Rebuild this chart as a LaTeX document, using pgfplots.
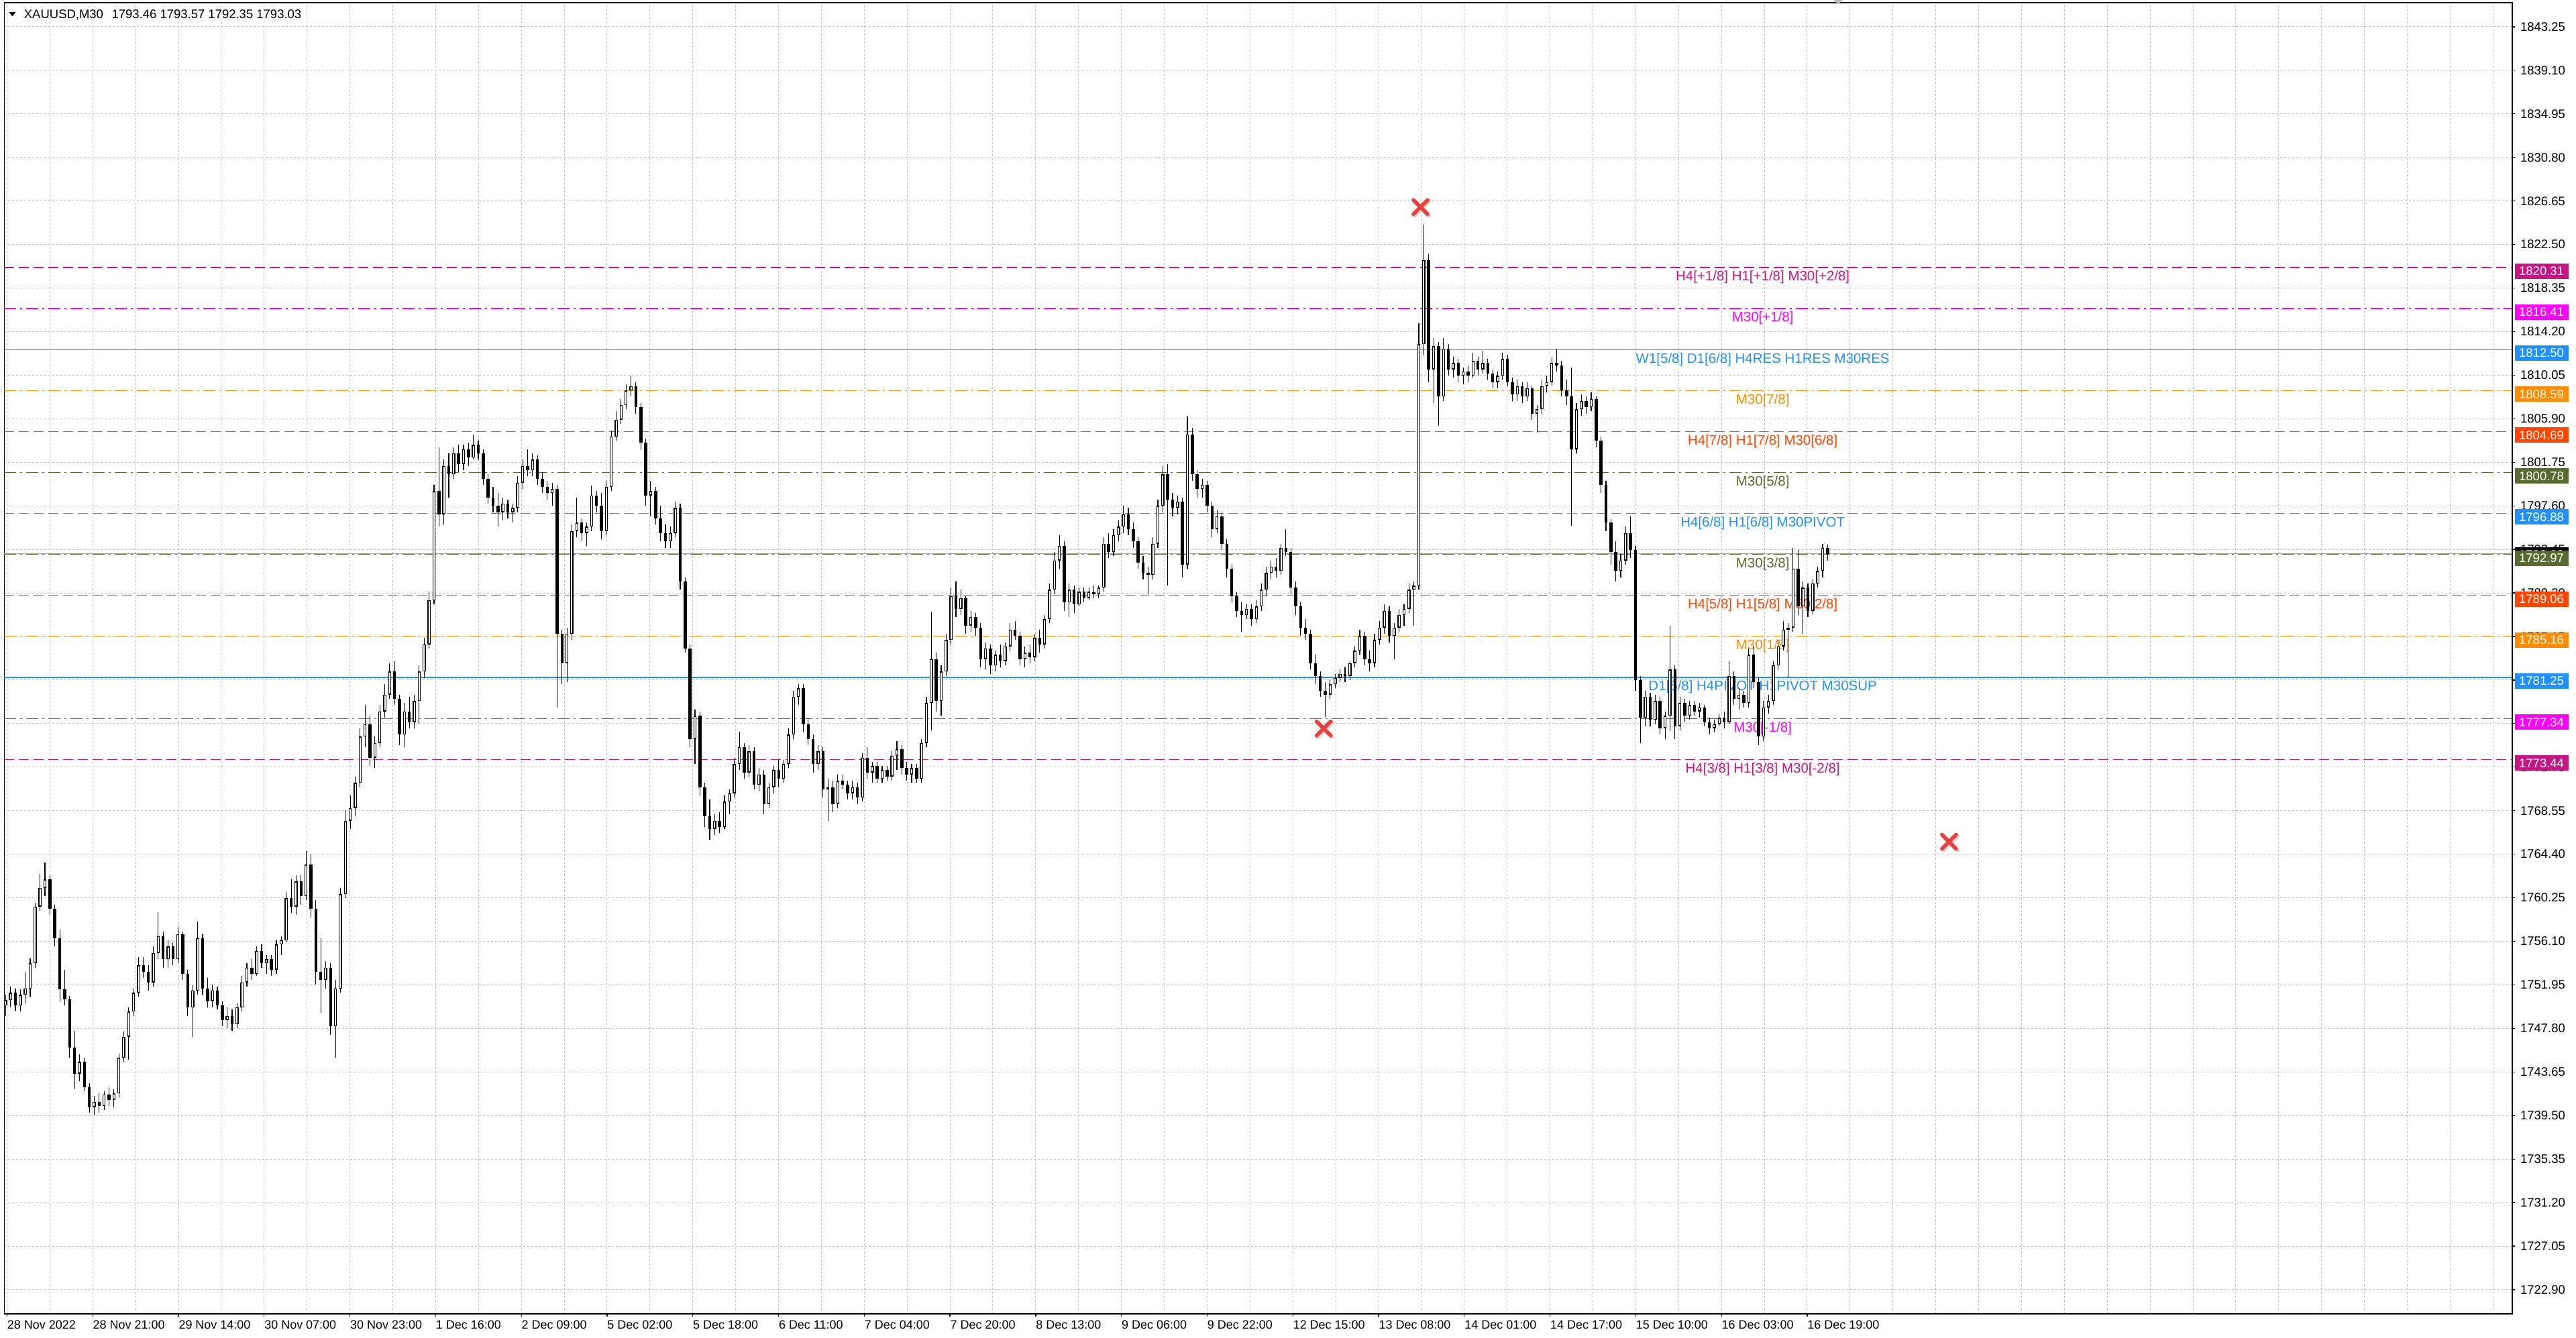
\documentclass[border=0pt]{standalone}
\usepackage{fontspec}
\setmainfont{Liberation Sans}
\usepackage{pgfplots}
\pgfplotsset{compat=1.18}
\usepackage{pgfplotstable}

\definecolor{mvr}{HTML}{C71585}
\definecolor{mag}{HTML}{FF00FF}
\definecolor{dblue}{HTML}{1E90FF}
\definecolor{dorange}{HTML}{FF8C00}
\definecolor{ored}{HTML}{FF4500}
\definecolor{dolive}{HTML}{556B2F}
\definecolor{gridc}{HTML}{C0C0C0}
\definecolor{xred}{HTML}{E8413C}

\tikzset{
  lvl/.style={font=\fontsize{8.2pt}{10pt}\selectfont, anchor=base, yshift=-8pt},
  pbox/.style={anchor=west, xshift=1.2pt, yshift=-2.2pt, minimum width=32pt, minimum height=9.2pt, inner sep=0pt, text=white, font=\fontsize{7.4pt}{8pt}\selectfont},
  dsh/.style={line width=0.5pt, dash pattern=on 6pt off 2.8pt},
  dot/.style={line width=0.5pt, dash pattern=on 7.2pt off 2.4pt on 1.2pt off 2.4pt},
  sol/.style={line width=0.45pt},
}

% XAUUSD M30, one candle per ~2 bars: open high low close
\pgfplotstableread{
o h l c
1750.0 1751.0 1749.0 1750.5
1750.5 1751.8 1749.8 1751.2
1751.2 1751.6 1749.5 1750.0
1750.0 1751.5 1749.4 1751.0
1751.0 1753.1 1750.2 1751.6
1751.6 1754.5 1750.8 1754.0
1754.0 1759.8 1753.6 1759.4
1759.4 1762.5 1759.0 1761.2
1761.2 1763.6 1760.4 1762.0
1762.0 1762.4 1758.6 1759.2
1759.2 1759.6 1755.6 1756.4
1756.4 1757.2 1750.4 1751.5
1751.5 1753.4 1750.0 1750.6
1750.6 1750.9 1745.0 1746.0
1746.0 1747.6 1742.0 1743.5
1743.5 1745.3 1742.8 1744.6
1744.6 1745.0 1741.8 1742.2
1742.2 1742.6 1739.8 1740.3
1740.3 1741.4 1739.5 1740.8
1740.8 1741.6 1739.8 1740.4
1740.4 1741.8 1740.0 1741.5
1741.5 1742.2 1740.4 1741.0
1741.0 1742.0 1740.3 1741.6
1741.6 1745.4 1741.2 1745.0
1745.0 1747.5 1744.6 1747.0
1747.0 1749.8 1744.8 1749.4
1749.4 1751.6 1749.0 1751.2
1751.2 1754.6 1750.8 1753.8
1753.8 1754.6 1752.6 1753.2
1753.2 1753.8 1751.4 1752.2
1752.2 1755.6 1751.8 1755.0
1755.0 1758.9 1754.4 1756.6
1756.6 1757.0 1753.6 1754.4
1754.4 1756.2 1753.6 1755.6
1755.6 1756.0 1753.8 1754.4
1754.4 1757.4 1754.0 1756.8
1756.8 1757.0 1752.4 1753.0
1753.0 1753.4 1749.0 1749.8
1749.8 1751.9 1747.0 1751.4
1751.4 1758.0 1751.0 1756.4
1756.4 1756.8 1751.0 1751.6
1751.6 1752.6 1749.8 1750.4
1750.4 1752.0 1749.8 1751.4
1751.4 1751.8 1749.6 1750.0
1750.0 1750.4 1748.0 1748.6
1748.6 1749.8 1747.8 1749.0
1749.0 1749.6 1747.6 1748.2
1748.2 1750.2 1747.8 1749.8
1749.8 1752.8 1749.4 1752.2
1752.2 1754.0 1751.8 1753.6
1753.6 1754.4 1752.4 1753.0
1753.0 1755.6 1752.8 1755.2
1755.2 1755.8 1753.6 1754.0
1754.0 1754.8 1753.0 1754.4
1754.4 1754.8 1752.8 1753.4
1753.4 1756.2 1753.0 1755.8
1755.8 1756.6 1754.8 1756.2
1756.2 1760.8 1756.0 1760.2
1760.2 1762.0 1758.8 1759.4
1759.4 1762.4 1758.6 1761.8
1761.8 1762.4 1759.6 1760.4
1760.4 1764.7 1760.0 1763.4
1763.4 1764.4 1758.4 1759.2
1759.2 1760.0 1752.0 1753.2
1753.2 1756.4 1749.3 1752.4
1752.4 1754.2 1751.6 1753.6
1753.6 1754.0 1747.2 1748.0
1748.0 1752.4 1745.0 1751.6
1751.6 1761.2 1751.2 1760.6
1760.6 1768.6 1760.2 1767.6
1767.6 1770.0 1766.8 1768.8
1768.8 1771.8 1768.0 1771.2
1771.2 1776.4 1770.8 1775.6
1775.6 1778.6 1774.6 1776.8
1776.8 1777.6 1772.8 1773.6
1773.6 1775.6 1772.6 1775.0
1775.0 1778.6 1774.6 1778.0
1778.0 1780.6 1777.4 1779.6
1779.6 1782.6 1779.2 1781.8
1781.8 1782.8 1778.6 1779.2
1779.2 1779.6 1774.8 1775.8
1775.8 1778.8 1774.6 1778.0
1778.0 1779.4 1776.4 1777.0
1777.0 1779.6 1776.4 1779.0
1779.0 1782.4 1776.8 1781.8
1781.8 1785.0 1781.2 1784.4
1784.4 1789.4 1784.0 1788.6
1788.6 1799.6 1788.2 1799.0
1799.0 1803.2 1795.6 1796.8
1796.8 1802.0 1795.8 1801.4
1801.4 1802.6 1798.4 1800.6
1800.6 1803.2 1800.2 1802.6
1802.6 1803.4 1800.8 1801.6
1801.6 1803.4 1801.0 1803.0
1803.0 1803.6 1801.4 1802.2
1802.2 1804.4 1802.0 1803.4
1803.4 1803.8 1802.0 1802.6
1802.6 1803.0 1799.6 1800.2
1800.2 1800.6 1797.8 1798.4
1798.4 1799.4 1797.0 1797.6
1797.6 1798.8 1795.6 1797.0
1797.0 1798.4 1796.2 1797.8
1797.8 1798.2 1796.4 1797.0
1797.0 1797.8 1796.0 1797.4
1797.4 1800.4 1797.0 1799.8
1799.8 1802.0 1799.2 1801.4
1801.4 1803.0 1800.4 1801.0
1801.0 1802.6 1800.4 1802.0
1802.0 1802.4 1799.6 1800.2
1800.2 1800.8 1798.8 1799.4
1799.4 1800.0 1798.2 1798.8
1798.8 1799.8 1797.6 1799.2
1799.2 1799.6 1778.4 1785.4
1785.4 1785.8 1780.6 1782.6
1782.6 1786.0 1780.8 1785.4
1785.4 1795.8 1784.8 1795.2
1795.2 1798.4 1794.6 1796.0
1796.0 1796.4 1794.2 1795.0
1795.0 1796.0 1793.8 1795.6
1795.6 1799.5 1795.2 1798.6
1798.6 1799.0 1797.0 1797.6
1797.6 1798.8 1794.4 1795.2
1795.2 1800.0 1794.8 1799.4
1799.4 1804.8 1799.0 1804.2
1804.2 1806.6 1803.8 1805.8
1805.8 1807.8 1805.4 1807.2
1807.2 1809.2 1806.8 1808.6
1808.6 1810.0 1808.0 1809.0
1809.0 1809.4 1806.4 1807.0
1807.0 1807.4 1803.0 1803.6
1803.6 1804.0 1797.6 1798.6
1798.6 1800.0 1796.6 1799.0
1799.0 1799.4 1795.8 1796.4
1796.4 1797.6 1794.2 1795.0
1795.0 1795.8 1793.6 1794.2
1794.2 1795.6 1793.6 1795.0
1795.0 1798.0 1794.6 1797.4
1797.4 1797.8 1789.6 1790.4
1790.4 1790.8 1783.6 1784.0
1784.0 1784.4 1774.6 1775.4
1775.4 1778.2 1773.0 1777.6
1777.6 1778.0 1770.0 1770.8
1770.8 1771.2 1767.0 1768.0
1768.0 1769.6 1765.8 1766.8
1766.8 1768.2 1766.2 1767.6
1767.6 1768.4 1766.4 1767.0
1767.0 1770.0 1766.8 1769.4
1769.4 1770.6 1768.2 1770.2
1770.2 1773.6 1769.8 1773.0
1773.0 1776.1 1772.4 1774.6
1774.6 1775.0 1771.6 1772.2
1772.2 1774.8 1771.8 1774.2
1774.2 1774.6 1770.6 1771.0
1771.0 1772.6 1770.4 1772.0
1772.0 1772.4 1768.2 1769.2
1769.2 1771.2 1768.8 1770.8
1770.8 1772.8 1770.2 1772.4
1772.4 1773.4 1770.8 1771.6
1771.6 1773.4 1771.2 1773.0
1773.0 1776.4 1772.6 1775.8
1775.8 1780.0 1775.4 1779.4
1779.4 1780.6 1778.6 1780.2
1780.2 1780.6 1776.0 1776.8
1776.8 1777.4 1774.8 1775.4
1775.4 1775.8 1772.2 1773.0
1773.0 1774.8 1772.4 1774.2
1774.2 1774.6 1769.8 1770.6
1770.6 1771.6 1767.6 1770.8
1770.8 1771.4 1768.4 1769.2
1769.2 1772.0 1768.8 1771.4
1771.4 1772.0 1770.6 1771.0
1771.0 1771.4 1769.6 1770.2
1770.2 1771.4 1769.6 1770.8
1770.8 1771.2 1769.2 1769.8
1769.8 1774.0 1769.4 1773.6
1773.6 1774.6 1771.6 1772.2
1772.2 1773.2 1771.2 1772.8
1772.8 1773.2 1771.2 1771.6
1771.6 1772.8 1771.2 1772.4
1772.4 1772.8 1771.4 1771.8
1771.8 1774.2 1771.4 1773.8
1773.8 1775.2 1772.4 1774.4
1774.4 1774.8 1772.0 1772.6
1772.6 1773.2 1771.4 1772.0
1772.0 1773.0 1771.2 1772.6
1772.6 1773.0 1771.2 1771.6
1771.6 1775.4 1771.2 1775.0
1775.0 1779.4 1774.6 1778.8
1778.8 1787.5 1776.2 1783.0
1783.0 1783.6 1778.0 1779.0
1779.0 1782.4 1777.6 1781.8
1781.8 1785.4 1781.4 1784.8
1784.8 1789.8 1784.4 1789.0
1789.0 1790.4 1787.0 1787.8
1787.8 1789.6 1787.2 1788.8
1788.8 1789.0 1785.4 1786.2
1786.2 1787.6 1785.6 1787.0
1787.0 1787.4 1785.2 1786.0
1786.0 1786.4 1782.2 1783.0
1783.0 1784.6 1782.0 1784.0
1784.0 1784.4 1781.6 1782.4
1782.4 1783.8 1781.8 1783.4
1783.4 1784.4 1782.2 1782.8
1782.8 1784.6 1782.4 1784.2
1784.2 1786.4 1783.8 1785.8
1785.8 1786.6 1784.8 1785.2
1785.2 1785.6 1782.4 1783.0
1783.0 1784.2 1782.2 1783.6
1783.6 1784.4 1782.6 1783.2
1783.2 1785.4 1782.8 1785.0
1785.0 1785.8 1783.6 1784.4
1784.4 1787.2 1784.0 1786.8
1786.8 1790.2 1786.4 1789.6
1789.6 1793.2 1789.2 1792.4
1792.4 1794.8 1791.6 1793.8
1793.8 1794.2 1787.6 1788.4
1788.4 1790.2 1787.0 1789.6
1789.6 1790.0 1787.4 1788.2
1788.2 1789.8 1788.0 1789.4
1789.4 1789.8 1788.4 1788.8
1788.8 1789.8 1788.6 1789.4
1789.4 1790.0 1788.8 1789.2
1789.2 1790.0 1788.8 1789.8
1789.8 1794.6 1789.4 1794.0
1794.0 1795.0 1792.6 1793.2
1793.2 1795.4 1792.8 1794.8
1794.8 1796.2 1794.2 1795.6
1795.6 1797.6 1795.0 1796.8
1796.8 1797.4 1794.8 1795.4
1795.4 1796.0 1793.6 1794.2
1794.2 1794.6 1791.6 1792.2
1792.2 1792.8 1790.6 1791.2
1791.2 1791.8 1789.2 1791.0
1791.0 1794.6 1790.6 1794.0
1794.0 1798.2 1793.6 1797.6
1797.6 1801.4 1797.0 1800.6
1800.6 1801.6 1790.0 1798.2
1798.2 1798.8 1796.6 1797.4
1797.4 1798.6 1796.8 1798.0
1798.0 1798.4 1790.8 1792.0
1792.0 1806.1 1791.6 1804.4
1804.4 1805.0 1800.0 1800.6
1800.6 1801.0 1798.4 1799.2
1799.2 1800.2 1798.4 1799.6
1799.6 1800.0 1797.0 1797.6
1797.6 1798.0 1794.6 1795.4
1795.4 1797.2 1795.0 1796.6
1796.6 1797.0 1793.4 1794.0
1794.0 1794.4 1790.8 1791.6
1791.6 1792.0 1788.4 1789.0
1789.0 1789.4 1787.0 1787.6
1787.6 1788.4 1785.6 1787.2
1787.2 1788.2 1786.8 1787.8
1787.8 1788.2 1786.2 1786.8
1786.8 1788.6 1786.4 1788.0
1788.0 1790.2 1787.6 1789.6
1789.6 1791.8 1789.0 1791.2
1791.2 1792.4 1790.6 1791.8
1791.8 1792.6 1790.8 1791.4
1791.4 1794.0 1791.0 1793.6
1793.6 1795.4 1792.8 1793.2
1793.2 1793.6 1789.2 1789.8
1789.8 1790.4 1787.2 1788.0
1788.0 1788.4 1785.2 1786.0
1786.0 1786.8 1784.8 1785.4
1785.4 1785.8 1782.0 1782.6
1782.6 1783.4 1780.6 1781.4
1781.4 1781.8 1779.4 1780.0
1780.0 1780.8 1777.5 1779.6
1779.6 1781.0 1779.2 1780.6
1780.6 1781.6 1780.2 1781.2
1781.2 1782.0 1780.8 1781.6
1781.6 1782.2 1780.8 1781.4
1781.4 1782.8 1781.0 1782.6
1782.6 1784.2 1782.2 1783.8
1783.8 1785.8 1783.4 1785.2
1785.2 1785.6 1782.4 1783.0
1783.0 1783.8 1781.8 1782.6
1782.6 1785.4 1782.2 1784.8
1784.8 1786.6 1784.4 1786.0
1786.0 1788.2 1785.4 1787.6
1787.6 1788.0 1784.6 1785.2
1785.2 1786.4 1783.0 1786.0
1786.0 1787.8 1785.6 1787.2
1787.2 1788.2 1786.2 1787.8
1787.8 1790.2 1787.4 1789.6
1789.6 1790.4 1786.2 1790.0
1790.0 1815.0 1789.6 1813.0
1813.0 1824.4 1812.0 1821.0
1821.0 1821.6 1809.4 1810.6
1810.6 1813.6 1807.4 1812.8
1812.8 1813.2 1805.2 1808.0
1808.0 1813.6 1807.6 1812.6
1812.6 1813.0 1810.0 1810.6
1810.6 1811.8 1809.8 1811.2
1811.2 1811.6 1809.4 1810.0
1810.0 1810.8 1809.2 1810.4
1810.4 1811.0 1809.4 1810.0
1810.0 1812.2 1809.8 1811.4
1811.4 1811.8 1810.0 1810.6
1810.6 1812.4 1810.2 1811.2
1811.2 1811.6 1809.6 1810.2
1810.2 1810.6 1808.8 1809.4
1809.4 1810.4 1808.8 1810.0
1810.0 1812.2 1809.6 1811.6
1811.6 1812.0 1809.0 1809.4
1809.4 1809.8 1807.6 1808.2
1808.2 1809.6 1807.6 1809.0
1809.0 1809.4 1807.4 1808.0
1808.0 1809.4 1807.6 1808.8
1808.8 1809.0 1805.8 1806.4
1806.4 1807.2 1804.6 1806.8
1806.8 1809.6 1806.4 1809.0
1809.0 1810.0 1808.4 1809.4
1809.4 1811.8 1809.0 1811.2
1811.2 1812.6 1810.4 1811.0
1811.0 1811.4 1808.0 1808.6
1808.6 1809.6 1807.2 1808.0
1808.0 1810.8 1795.7 1803.0
1803.0 1807.4 1802.6 1806.8
1806.8 1808.2 1806.2 1807.6
1807.6 1808.0 1806.4 1807.0
1807.0 1808.4 1806.6 1807.8
1807.8 1808.0 1803.2 1803.8
1803.8 1804.2 1798.8 1799.6
1799.6 1800.0 1795.2 1796.0
1796.0 1796.4 1792.0 1793.2
1793.2 1794.2 1790.4 1791.4
1791.4 1793.0 1790.8 1792.4
1792.4 1795.6 1792.0 1795.0
1795.0 1796.6 1792.6 1793.4
1793.4 1793.8 1780.0 1781.0
1781.0 1781.4 1775.0 1777.4
1777.4 1780.0 1776.6 1779.4
1779.4 1779.8 1776.6 1777.2
1777.2 1779.6 1776.8 1779.0
1779.0 1779.4 1775.8 1776.4
1776.4 1778.0 1775.4 1777.6
1777.6 1786.1 1776.2 1782.0
1782.0 1782.4 1775.4 1776.6
1776.6 1779.4 1776.2 1778.8
1778.8 1779.2 1777.0 1777.6
1777.6 1779.0 1777.2 1778.6
1778.6 1779.0 1777.6 1778.0
1778.0 1778.8 1777.4 1778.4
1778.4 1778.6 1776.6 1777.0
1777.0 1777.4 1775.8 1776.4
1776.4 1777.2 1776.0 1776.8
1776.8 1777.8 1776.6 1777.4
1777.4 1778.0 1776.4 1777.0
1777.0 1782.8 1776.8 1781.4
1781.4 1781.8 1778.6 1779.2
1779.2 1780.2 1778.2 1779.6
1779.6 1780.0 1778.4 1778.8
1778.8 1784.0 1778.4 1783.4
1783.4 1784.2 1780.2 1780.8
1780.8 1781.2 1774.8 1775.6
1775.6 1779.0 1775.2 1778.4
1778.4 1779.6 1777.8 1779.0
1779.0 1782.8 1778.6 1782.4
1782.4 1784.8 1782.0 1784.2
1784.2 1786.6 1783.8 1785.8
1785.8 1786.4 1781.2 1786.0
1786.0 1793.6 1785.6 1791.6
1791.6 1793.4 1787.2 1788.0
1788.0 1790.4 1785.4 1789.8
1789.8 1790.2 1787.0 1787.6
1787.6 1790.6 1787.2 1790.2
1790.2 1791.8 1789.8 1791.4
1791.4 1794.0 1790.8 1793.6
1793.6 1793.9 1792.4 1793.0
}\candles

\begin{document}
\begin{tikzpicture}
\path (0,0) rectangle (1536pt,798.4pt);
\begin{axis}[
  at={(1.2pt,14pt)}, anchor=south west,
  scale only axis, width=1496.8pt, height=782.8pt,
  xmin=1.225, xmax=1529.2, ymin=1720.58, ymax=1845.55,
  set layers, clip=false, unbounded coords=discard,
  axis line style={black, line width=0.7pt},
  tick align=outside, major tick length=1.6pt, minor tick length=0pt,
  xtick pos=left, ytick pos=right, yticklabel pos=right,
  tick style={black, line width=0.5pt},
  xtick={2.858,55.084,...,1100},
  xticklabels={28 Nov 2022,28 Nov 21:00,29 Nov 14:00,30 Nov 07:00,30 Nov 23:00,1 Dec 16:00,2 Dec 09:00,5 Dec 02:00,5 Dec 18:00,6 Dec 11:00,7 Dec 04:00,7 Dec 20:00,8 Dec 13:00,9 Dec 06:00,9 Dec 22:00,12 Dec 15:00,13 Dec 08:00,14 Dec 01:00,14 Dec 17:00,15 Dec 10:00,16 Dec 03:00,16 Dec 19:00},
  minor xtick={2.858,28.971,...,1529},
  ytick={1722.9,1727.05,...,1843.3},
  grid=both,
  major grid style={gridc, line width=0.4pt, dash pattern=on 1.2pt off 1.2pt},
  minor grid style={gridc, line width=0.4pt, dash pattern=on 1.2pt off 1.2pt},
  tick label style={font=\fontsize{7.4pt}{8pt}\selectfont, inner sep=0pt},
  x tick label style={anchor=north west, yshift=-2.2pt, font=\fontsize{7.2pt}{8pt}\selectfont},
  y tick label style={anchor=west, xshift=3pt, /pgf/number format/.cd, fixed, fixed zerofill, precision=2, 1000 sep={}, assume math mode=true},
]
% level lines
\addplot[mvr, dsh] coordinates {(1.225,1820.31) (1529.2,1820.31)};
\addplot[mag, dot] coordinates {(1.225,1816.41) (1529.2,1816.41)};
\addplot[dblue, sol] coordinates {(1.225,1812.50) (1529.2,1812.50)};
\addplot[dorange, dot] coordinates {(1.225,1808.59) (1529.2,1808.59)};
\addplot[ored, dsh] coordinates {(1.225,1804.69) (1529.2,1804.69)};
\addplot[dolive, dot] coordinates {(1.225,1800.78) (1529.2,1800.78)};
\addplot[dblue, dsh] coordinates {(1.225,1796.88) (1529.2,1796.88)};
\addplot[dolive, dot] coordinates {(1.225,1792.97) (1529.2,1792.97)};
\addplot[gray!75, line width=0.4pt] coordinates {(1.225,1793.03) (1529.2,1793.03)};
\addplot[ored, dsh] coordinates {(1.225,1789.06) (1529.2,1789.06)};
\addplot[dorange, dot] coordinates {(1.225,1785.16) (1529.2,1785.16)};
\addplot[dblue, sol] coordinates {(1.225,1781.25) (1529.2,1781.25)};
\addplot[mag, dot] coordinates {(1.225,1777.34) (1529.2,1777.34)};
\addplot[mvr, dsh] coordinates {(1.225,1773.44) (1529.2,1773.44)};

\node[lvl, text=mvr] at (axis cs:1072.5,1820.31) {H4[+1/8] H1[+1/8] M30[+2/8]};
\node[lvl, text=mag] at (axis cs:1072.5,1816.41) {M30[+1/8]};
\node[lvl, text=dblue] at (axis cs:1072.5,1812.50) {W1[5/8] D1[6/8] H4RES H1RES M30RES};
\node[lvl, text=dorange] at (axis cs:1072.5,1808.59) {M30[7/8]};
\node[lvl, text=ored] at (axis cs:1072.5,1804.69) {H4[7/8] H1[7/8] M30[6/8]};
\node[lvl, text=dolive] at (axis cs:1072.5,1800.78) {M30[5/8]};
\node[lvl, text=dblue] at (axis cs:1072.5,1796.88) {H4[6/8] H1[6/8] M30PIVOT};
\node[lvl, text=dolive] at (axis cs:1072.5,1792.97) {M30[3/8]};
\node[lvl, text=ored] at (axis cs:1072.5,1789.06) {H4[5/8] H1[5/8] M30[2/8]};
\node[lvl, text=dorange] at (axis cs:1072.5,1785.16) {M30[1/8]};
\node[lvl, text=dblue] at (axis cs:1072.5,1781.25) {D1[5/8] H4PIVOT H1PIVOT M30SUP};
\node[lvl, text=mag] at (axis cs:1072.5,1777.34) {M30[-1/8]};
\node[lvl, text=mvr] at (axis cs:1072.5,1773.44) {H4[3/8] H1[3/8] M30[-2/8]};

% candles: wicks, bodies, hollow bull bodies
\addplot[draw=none, mark=none, forget plot, error bars/.cd, y dir=plus, y explicit, error mark=none,
  error bar style={draw=black, solid, line width=0.45pt}]
  table[x expr=2+3*\coordindex, y=l, y error expr=\thisrow{h}-\thisrow{l}] {\candles};
\addplot[draw=none, mark=none, forget plot, error bars/.cd, y dir=plus, y explicit, error mark=none,
  error bar style={draw=black, solid, line width=1.8pt}]
  table[x expr=2+3*\coordindex, y expr={min(\thisrow{o},\thisrow{c})}, y error expr={max(abs(\thisrow{c}-\thisrow{o}),0.07)}] {\candles};
\addplot[draw=none, mark=none, forget plot, error bars/.cd, y dir=plus, y explicit, error mark=none,
  error bar style={draw=white, solid, line width=0.8pt}]
  table[x expr=2+3*\coordindex, y expr={(\thisrow{c}-\thisrow{o}>0.3) ? (\thisrow{o}+0.09) : nan}, y error expr={max(\thisrow{c}-\thisrow{o}-0.18,0.05)}] {\candles};

% arrow objects (red crosses)
\addplot[only marks, mark=x, mark size=6pt, mark options={line width=2.6pt, black!18, line cap=round, xshift=0.8pt, yshift=-0.8pt}]
  coordinates {(864,1826.07) (805,1776.38) (1186,1765.59)};
\addplot[only marks, mark=x, mark size=6pt, mark options={line width=2.2pt, xred, line cap=round}]
  coordinates {(864,1826.07) (805,1776.38) (1186,1765.59)};

% price labels on the scale
\node[pbox, fill=mvr] at (axis cs:1529.2,1820.31) {1820.31};
\node[pbox, fill=mag] at (axis cs:1529.2,1816.41) {1816.41};
\node[pbox, fill=dblue] at (axis cs:1529.2,1812.50) {1812.50};
\node[pbox, fill=dorange] at (axis cs:1529.2,1808.59) {1808.59};
\node[pbox, fill=ored] at (axis cs:1529.2,1804.69) {1804.69};
\node[pbox, fill=dolive] at (axis cs:1529.2,1800.78) {1800.78};
\node[pbox, fill=dblue] at (axis cs:1529.2,1796.88) {1796.88};
\node[pbox, fill=black, yshift=1.6pt] at (axis cs:1529.2,1793.03) {1793.03};
\node[pbox, fill=dolive] at (axis cs:1529.2,1792.97) {1792.97};
\node[pbox, fill=ored] at (axis cs:1529.2,1789.06) {1789.06};
\node[pbox, fill=dorange] at (axis cs:1529.2,1785.16) {1785.16};
\node[pbox, fill=dblue] at (axis cs:1529.2,1781.25) {1781.25};
\node[pbox, fill=mag] at (axis cs:1529.2,1777.34) {1777.34};
\node[pbox, fill=mvr] at (axis cs:1529.2,1773.44) {1773.44};
\end{axis}
% chart shift marker and header
\fill[gray!55] (1092.9pt,798.4pt) -- (1098.5pt,798.4pt) -- (1095.7pt,796pt) -- cycle;
\fill[black] (4pt,791.2pt) -- (8pt,791.2pt) -- (6pt,788.6pt) -- cycle;
\node[anchor=west, inner sep=0pt, font=\fontsize{7.4pt}{8pt}\selectfont] at (12.8pt,789.4pt)
  {XAUUSD,M30\hspace{3pt} 1793.46 1793.57 1792.35 1793.03};
\end{tikzpicture}
\end{document}
